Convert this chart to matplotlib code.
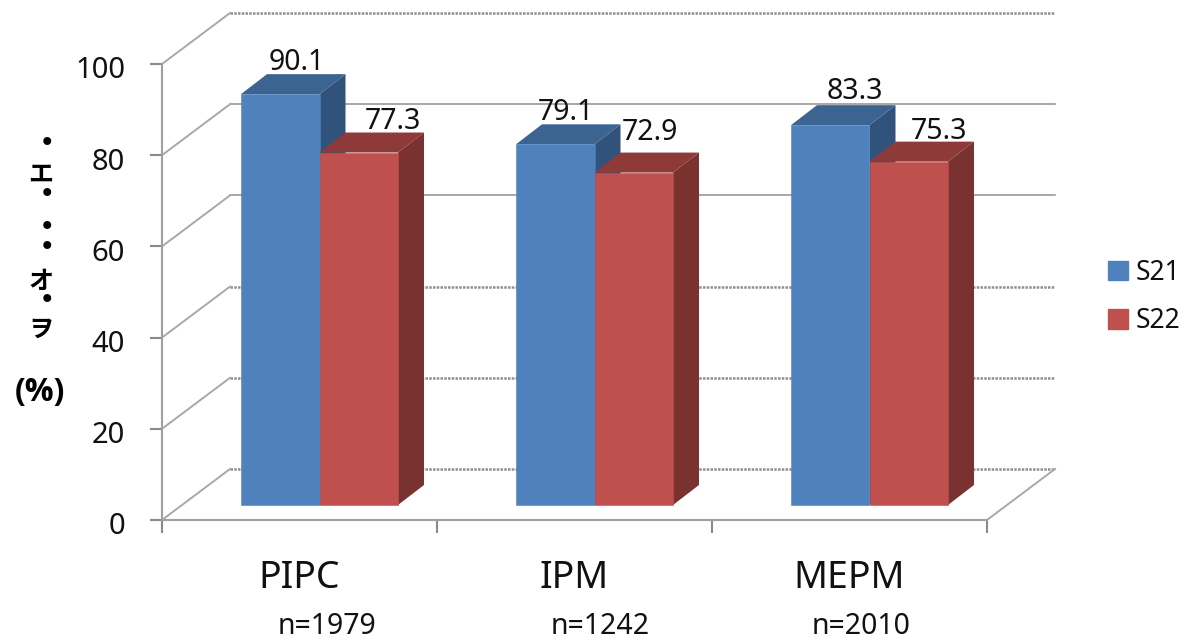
import numpy as np
import matplotlib
matplotlib.use('Agg')
import matplotlib.pyplot as plt
from matplotlib.transforms import ScaledTranslation

plt.rcParams['font.family'] = ['Noto Sans', 'Noto Sans CJK JP', 'DejaVu Sans']

## -- donnees -- ##
categories = ['PIPC', 'IPM', 'MEPM']
sizes = ['n=1979', 'n=1242', 'n=2010']
s21 = [90.1, 79.1, 83.3]
s22 = [77.3, 72.9, 75.3]
yticks = [0, 20, 40, 60, 80, 100]

## -- reglages en pixels du rendu -- ##
W, H = 1190, 641
AX_L, AX_R, AX_B, AX_T = 162, 987, 520, 64
PX_X = (AX_R - AX_L) / 3.0     # px par categorie
PX_Y = (AX_B - AX_T) / 100.0   # px par unite
WALL_DX, WALL_DY = 68, 51      # profondeur du fond
BAR_DX, BAR_DY = 20, 15        # decalage du pied des barres
SIDE_DX, SIDE_DY = 26, 20      # profondeur des barres
BAR_W = 78.5 / PX_X

GRID = '#8f8f8f'
TXT = '#111111'
wall_styles = [(0, (1, 0.5)), (0, (1, 0.5)), (0, (1, 0.5)), '-', '-', (0, (1, 0.5))]

def ux(p):
    return p / PX_X

def uy(p):
    return p / PX_Y

def box(ax, x, val, front, top, side):
    base = uy(BAR_DY)
    left = x - BAR_W
    right = x
    sx, sy = ux(SIDE_DX), uy(SIDE_DY)
    h = base + val
    ax.fill([right, right + sx, right + sx, right], [base, base + sy, h + sy, h], color=side, lw=0, zorder=3, clip_on=False)
    ax.fill([left, left + sx, right + sx, right], [h, h + sy, h + sy, h], color=top, lw=0, zorder=3, clip_on=False)
    ax.bar(right - BAR_W / 2, val, BAR_W, bottom=base, color=front, edgecolor=front, lw=0.4, zorder=3, clip_on=False)

fig = plt.figure(figsize=(W / 100, H / 100), dpi=100)
ax = fig.add_axes([AX_L / W, 1 - AX_B / H, (AX_R - AX_L) / W, (AX_B - AX_T) / H])
x = np.arange(len(categories))

## -- parois du graphique -- ##
wx, wy = ux(WALL_DX), uy(WALL_DY)
for v, st in zip(yticks, wall_styles):
    lw = 1.1 if st == '-' else 1.8
    ax.plot([-0.5 + wx, 2.5 + wx], [v + wy, v + wy], color=GRID, lw=lw, ls=st, zorder=1, clip_on=False)
    ax.plot([-0.5, -0.5 + wx], [v, v + wy], color='#a8a8a8', lw=1.4, zorder=1, clip_on=False)
ax.plot([2.5, 2.5 + wx], [0, wy], color='#a8a8a8', lw=1.4, zorder=1, clip_on=False)

## -- barres -- ##
for i in x:
    cx = i + ux(BAR_DX)
    box(ax, cx, s21[i], '#4F81BD', '#3C6491', '#31527A')
    box(ax, cx + BAR_W, s22[i], '#C0504D', '#8E3A38', '#7A3231')

## -- valeurs -- ##
lab21_dx = [17, 11, 25]
lab21_y = [63, 113, 92]
lab22_dx = [34, 16, 30]
lab22_y = [122, 133, 132]
for i in x:
    cx = i + ux(BAR_DX)
    ax.text(cx - BAR_W / 2 + ux(lab21_dx[i]), uy(AX_B - lab21_y[i]), '%.1f' % s21[i], ha='center', va='center',
            fontsize=20.5, color=TXT, zorder=5)
    ax.text(cx + BAR_W / 2 + ux(lab22_dx[i]), uy(AX_B - lab22_y[i]), '%.1f' % s22[i], ha='center', va='center',
            fontsize=20.5, color=TXT, zorder=5)

## -- axes -- ##
ax.set_xlim(-0.5, 2.5)
ax.set_ylim(0, 100)
ax.set_xticks([-0.5, 0.5, 1.5, 2.5])
ax.set_xticklabels([])
ax.set_yticks(yticks)
ax.tick_params(axis='y', length=8.6, width=1.5, color='#8a8a8a', labelsize=21, labelcolor=TXT, pad=18)
ax.tick_params(axis='x', length=9.4, width=1.5, color='#8a8a8a')
decal = ScaledTranslation(0, -2.5 / 72, fig.dpi_scale_trans)
for lab in ax.get_yticklabels():
    lab.set_transform(lab.get_transform() + decal)
for s in ['top', 'right']:
    ax.spines[s].set_visible(False)
for s in ['left', 'bottom']:
    ax.spines[s].set_color('#a0a0a0')
    ax.spines[s].set_linewidth(1.5)
ax.patch.set_alpha(0)

## -- etiquettes sous l'axe -- ##
cat_dx = [0, 0, 0]
n_dx = [27, 26, 12]
for i in x:
    ax.text(i + ux(cat_dx[i]), uy(520 - 578), categories[i], ha='center', va='center', fontsize=27, color=TXT, clip_on=False)
    ax.text(i + ux(n_dx[i]), uy(520 - 626), sizes[i], ha='center', va='center', fontsize=20.5, color=TXT, clip_on=False)

## -- titre de l'axe y (caracteres abimes dans l'original) -- ##
ylab_chars = ['•', 'エ', '•', '•', '•', 'オ', '•', 'ヲ']
ylab_px = [141, 175, 192, 225, 245, 282, 298, 330]
for c, yp in zip(ylab_chars, ylab_px):
    fs = 18 if c != '•' else 20
    fig.text(41 / W if c != '•' else 47 / W, 1 - yp / H, c, ha='center', va='center', fontsize=fs,
             fontweight='bold', family=['Noto Sans CJK JP', 'DejaVu Sans'], color='black')
fig.text(40 / W, 1 - 392 / H, '(%)', ha='center', va='center', fontsize=23, fontweight='bold', family='Open Sans', color='black')

## -- legende -- ##
h1 = plt.Rectangle((0, 0), 1, 1, color='#4F81BD')
h2 = plt.Rectangle((0, 0), 1, 1, color='#C0504D')
fig.legend([h1, h2], ['S21', 'S22'], loc='center left', bbox_to_anchor=(1095 / W, 1 - 297 / H), frameon=False,
           fontsize=19, handlelength=0.75, handleheight=0.75, handletextpad=0.3, labelspacing=0.78, borderpad=0, labelcolor=TXT)

plt.savefig('out.png', dpi=100)
